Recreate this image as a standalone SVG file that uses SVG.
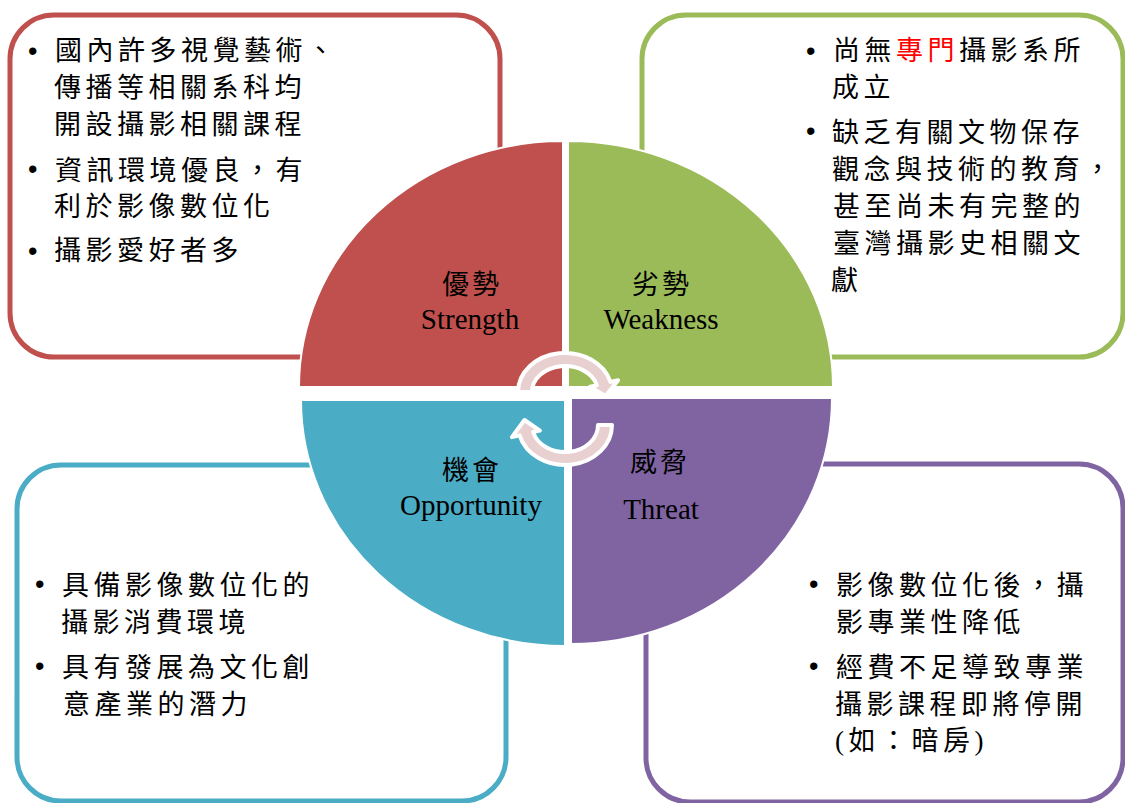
<svg xmlns="http://www.w3.org/2000/svg" width="1125" height="803" viewBox="0 0 1125 803">
<style>
.box{fill:#fff;stroke-width:5}
.q{stroke:#fff;stroke-width:2}
.t{font-family:"Liberation Serif","Noto Sans CJK TC",serif;font-size:27px;letter-spacing:4.5px;fill:#000}
.b{font-family:"Liberation Sans",sans-serif;font-size:27px;fill:#000}
.lc{font-family:"Liberation Serif","Noto Sans CJK TC",serif;font-size:27px;letter-spacing:3px;fill:#000}
.le{font-family:"Liberation Serif",serif;font-size:29px;fill:#000;text-anchor:middle}
.arr{fill:#E8D0D1;stroke:#fff;stroke-width:4;stroke-linejoin:round}
</style>
<rect width="1125" height="803" fill="#fff"/>
<g id="box-strength">
<rect class="box" x="10" y="15" width="490" height="342" rx="44" stroke="#C0504D"/>
<text class="b" x="28" y="60">•</text>
<text class="t" x="55" y="60">國內許多視覺藝術、</text>
<text class="t" x="54" y="97">傳播等相關系科均</text>
<text class="t" x="54" y="134">開設攝影相關課程</text>
<text class="b" x="28" y="178">•</text>
<text class="t" x="55" y="180">資訊環境優良，有</text>
<text class="t" x="54" y="216">利於影像數位化</text>
<text class="b" x="28" y="260">•</text>
<text class="t" x="54" y="260">攝影愛好者多</text>
</g>
<g id="box-weakness">
<rect class="box" x="642" y="15" width="481" height="342" rx="44" stroke="#9BBB59"/>
<text class="b" x="806" y="60">•</text>
<text class="t" x="833" y="60">尚無<tspan fill="#FF0000">專門</tspan>攝影系所</text>
<text class="t" x="832" y="97">成立</text>
<text class="b" x="806" y="140">•</text>
<text class="t" x="832" y="142">缺乏有關文物保存</text>
<text class="t" x="832" y="179">觀念與技術的教育，</text>
<text class="t" x="833" y="216">甚至尚未有完整的</text>
<text class="t" x="833" y="253">臺灣攝影史相關文</text>
<text class="t" x="831" y="290">獻</text>
</g>
<g id="box-opportunity">
<rect class="box" x="17" y="465" width="489" height="336" rx="44" stroke="#4BACC6"/>
<text class="b" x="35" y="593">•</text>
<text class="t" x="62" y="595">具備影像數位化的</text>
<text class="t" x="61" y="632">攝影消費環境</text>
<text class="b" x="35" y="675">•</text>
<text class="t" x="62" y="677">具有發展為文化創</text>
<text class="t" x="63" y="714">意產業的潛力</text>
</g>
<g id="box-threat">
<rect class="box" x="646" y="464" width="477" height="338" rx="44" stroke="#8064A2"/>
<text class="b" x="809" y="593">•</text>
<text class="t" x="836" y="595">影像數位化後，攝</text>
<text class="t" x="836" y="632">影專業性降低</text>
<text class="b" x="809" y="675">•</text>
<text class="t" x="836" y="677">經費不足導致專業</text>
<text class="t" x="835" y="714">攝影課程即將停開</text>
<text class="t" x="835" y="750">(如：暗房)</text>
</g>
<g id="quad-strength">
<path class="q" d="M563,387 L299,387 A264 246 0 0 1 563,141 Z" fill="#C0504D"/>
<text class="lc" x="442" y="294">優勢</text>
<text class="le" x="470" y="329">Strength</text>
</g>
<g id="quad-weakness">
<path class="q" d="M568,387 L568,141 A265 246 0 0 1 833,387 Z" fill="#9BBB59"/>
<text class="lc" x="632" y="294">劣勢</text>
<text class="le" x="661" y="329">Weakness</text>
</g>
<g id="quad-opportunity">
<path class="q" d="M565,400 L301,400 A264 246 0 0 0 565,646 Z" fill="#4BACC6"/>
<text class="lc" x="442" y="480">機會</text>
<text class="le" x="471" y="515">Opportunity</text>
</g>
<g id="quad-threat">
<path class="q" d="M571,398 L832,398 A261 246 0 0 1 571,644 Z" fill="#8064A2"/>
<text class="lc" x="630" y="472">威脅</text>
<text class="le" x="661" y="519">Threat</text>
</g>
<g id="connectors">
<path class="arr" d="M518,392 A47 39 0 0 1 610.4,381.9 L618.1,380.2 L605.5,396 L590.1,386.6 L596.9,385.3 A33 26 0 0 0 532,392 Z"/>
<path class="arr" d="M612,425 A47 40 0 0 1 519.6,435.4 L511.9,437.1 L524.5,420 L539.9,430.6 L533.1,432 A33 27 0 0 0 598,425 Z"/>
</g>
</svg>
